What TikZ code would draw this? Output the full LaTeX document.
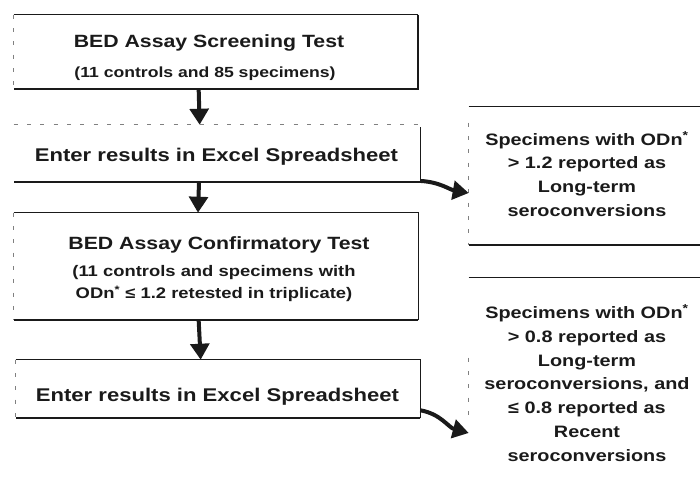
\documentclass[tikz,border=0pt]{standalone}
\usepackage{fontspec}
\setmainfont{Liberation Sans}[FakeStretch=1.2]
\usetikzlibrary{arrows.meta}

\definecolor{ink}{HTML}{1A1A1A}

\begin{document}
\begin{tikzpicture}[x=0.75pt, y=-0.75pt,
  box/.style={draw=none, inner sep=0pt},
  rim/.style={line width=0.9pt, ink},
  heavyrim/.style={line width=1.8pt, ink},
  faintrim/.style={line width=0.5pt, gray, dash pattern=on 3pt off 7pt},
  flow/.style={line width=3pt, ink, -{Triangle[width=14pt,length=12pt]}},
  headfont/.style={inner sep=0pt, text=ink, font=\fontsize{13.3}{16}\selectfont\bfseries},
  enterfont/.style={inner sep=0pt, text=ink, font=\fontsize{13.8}{16}\selectfont\bfseries},
  subfont/.style={inner sep=0pt, text=ink, font=\fontsize{11}{15}\selectfont\bfseries},
  notefont/.style={inner sep=0pt, text=ink, align=center, font=\fontsize{12.4}{17.8}\selectfont\bfseries}]
\useasboundingbox (0,0) rectangle (700,478);

% Draw the boxes.
\node[box, minimum width=303pt, minimum height=55.5pt] (b1) at (216,52) {};
\node[box, minimum width=304.5pt, minimum height=42.75pt] (b2) at (217,153.5) {};
\node[box, minimum width=303pt, minimum height=80.25pt] (b3) at (216,266.5) {};
\node[box, minimum width=303pt, minimum height=43.5pt] (b4) at (218,389) {};
\node[box, minimum width=177pt, minimum height=103.5pt] (r1) at (587,176) {};
\node[box, minimum width=177pt, minimum height=159pt] (r2) at (587,384) {};

\draw[rim] (b1.north west) -- (b1.north east);
\draw[faintrim] (b1.north west) -- (b1.south west);
\draw[heavyrim] (b1.north east) -- (b1.south east) -- (b1.south west);

\draw[faintrim] (b2.north west) -- (b2.north east);
\draw[rim] ([yshift=-2pt]b2.north east) -- (b2.south east);
\draw[heavyrim] (b2.south east) -- (b2.south west);

\draw[rim] (b3.north west) -- (b3.north east) -- (b3.south east);
\draw[faintrim] (b3.north west) -- (b3.south west);
\draw[heavyrim] (b3.south east) -- (b3.south west);

\draw[rim] (b4.north west) -- (b4.north east) -- (b4.south east);
\draw[faintrim] (b4.north west) -- (b4.south west);
\draw[heavyrim] (b4.south east) -- (b4.south west);

\draw[rim] (r1.north west) -- (r1.north east);
\draw[faintrim] ([yshift=-12pt]r1.north west) -- (r1.south west);
\draw[heavyrim] (r1.south west) -- (r1.south east);

\draw[rim] (r2.north west) -- (r2.north east);
\draw[faintrim] ([yshift=-60pt]r2.north west) -- ([yshift=-110pt]r2.north west);

% Draw the texts.
\node[headfont] (h1) at (209,43) {BED Assay Screening Test};
\node[subfont] (s1) at (205,74) {(11 controls and 85 specimens)};
\node[enterfont] (h2) at (216.5,157) {Enter results in Excel Spreadsheet};
\node[headfont] (h3) at (219,245) {BED Assay Confirmatory Test};
\node[subfont, align=center, font=\fontsize{11.5}{16.5}\selectfont\bfseries] (s3) at (214,284)
  {(11 controls and specimens with\\ODn\textsuperscript{*} ≤ 1.2 retested in triplicate)};
\node[enterfont] (h4) at (217.5,397) {Enter results in Excel Spreadsheet};

\node[notefont] (n1) at (587,174) {Specimens with ODn\textsuperscript{*}\\> 1.2 reported as\\Long-term\\seroconversions};
\node[notefont] (n2) at (587,383) {Specimens with ODn\textsuperscript{*}\\> 0.8 reported as\\Long-term\\seroconversions, and\\≤ 0.8 reported as\\Recent\\seroconversions};

% Draw the arrows.
\draw[flow] ([xshift=-13pt]b1.south) -- ([xshift=-13pt]b2.north);
\draw[flow] ([xshift=-13.5pt]b2.south) -- ([xshift=-13.5pt]b3.north);
\draw[flow] ([xshift=-13pt]b3.south) -- ([xshift=-13pt]b4.north);

\draw[flow] ([yshift=1pt]b2.south east) to[out=-3, in=170] ([yshift=-12.75pt]r1.west);
\draw[flow] ([yshift=6pt]b4.south east) to[out=-10, in=165] ([yshift=-36.75pt]r2.west);

\end{tikzpicture}
\end{document}
